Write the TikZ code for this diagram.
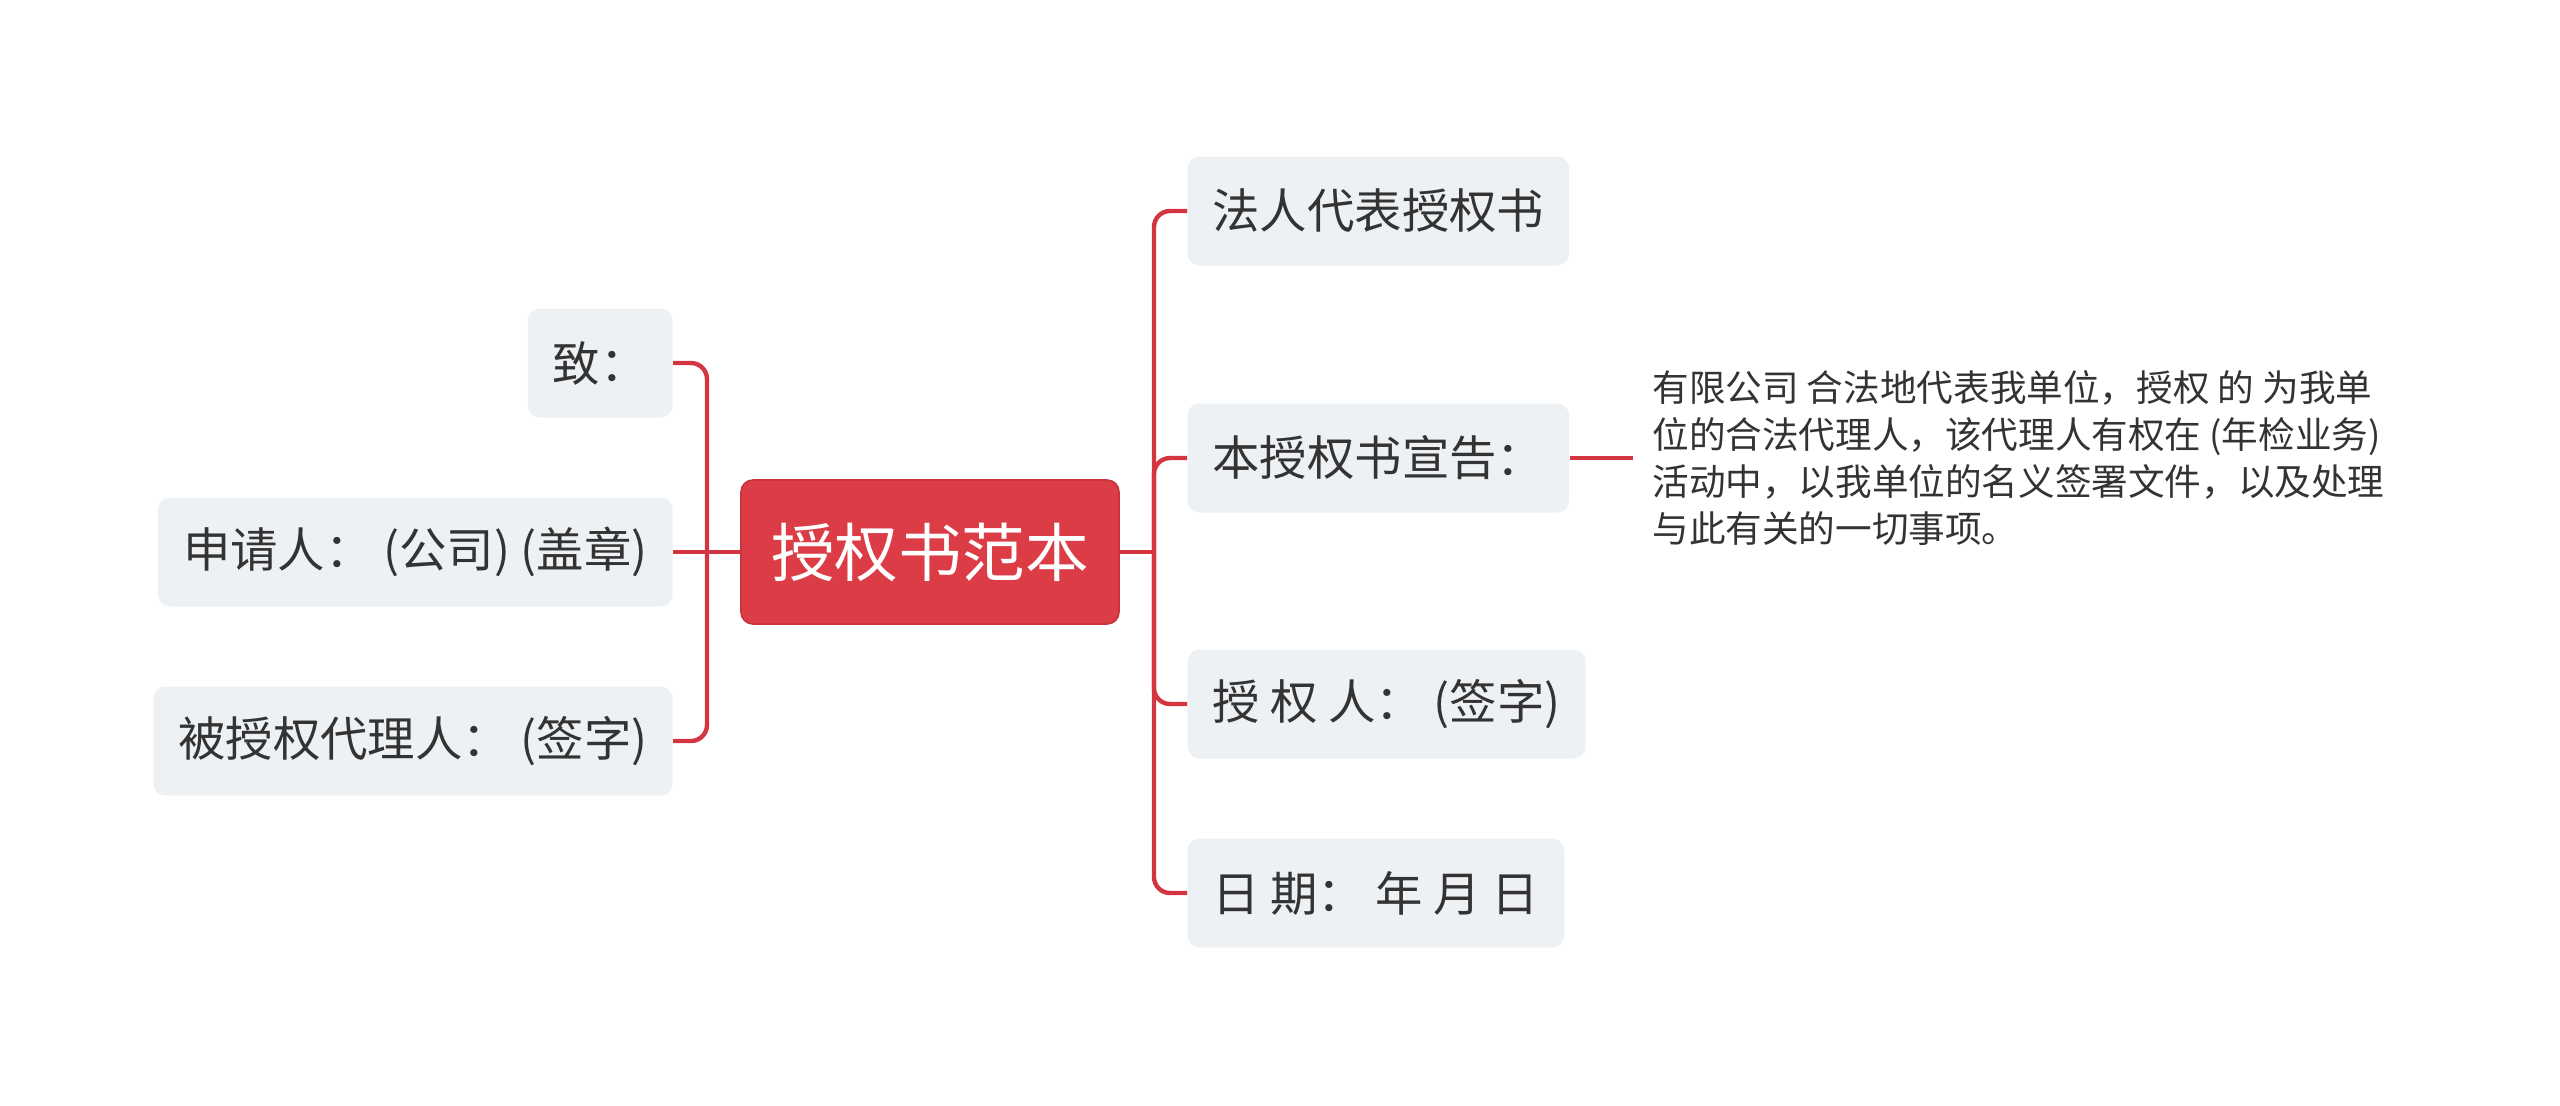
\documentclass[tikz,border=0pt]{standalone}
\usepackage{fontspec}
\setmainfont{Noto Sans CJK SC}
\usetikzlibrary{calc}
\definecolor{branchred}{HTML}{D33640}
\definecolor{rootred}{HTML}{DC3C45}
\definecolor{rootedge}{HTML}{C8343D}
\definecolor{leafgray}{HTML}{EEF1F4}
\definecolor{inkgray}{HTML}{333333}
\tikzset{
	rootbox/.style={rectangle, rounded corners=6pt, fill=rootred, draw=rootedge, line width=0.8pt, text=white, font=\fontsize{31.8pt}{36pt}\selectfont, minimum height=72pt, inner xsep=15pt},
	leafbox/.style={rectangle, rounded corners=6pt, fill=leafgray, text=inkgray, font=\fontsize{23.7pt}{28pt}\selectfont, minimum height=54.5pt, inner xsep=12.5pt},
	notebox/.style={text=inkgray, font=\fontsize{18.3pt}{23.5pt}\selectfont, align=left, inner xsep=9.5pt, inner ysep=0pt},
	branchline/.style={draw=branchred, line width=2.2pt, rounded corners=8pt},
}

\begin{document}
\begin{tikzpicture}[x=0.5pt, y=-0.5pt]
	\useasboundingbox (0,0) rectangle (2560,1105);
	\node[rootbox] at (930,552) (root) {授权书范本};
	% left side
	\node[leafbox, anchor = east] at (673,363) (zhi) {致：};
	\node[leafbox, anchor = east] at (673,552) (sqr) {申请人： (公司) (盖章)};
	\node[leafbox, anchor = east] at (673,741) (bsq) {被授权代理人： (签字)};
	% right side
	\node[leafbox, anchor = west] at (1187,211) (flr) {法人代表授权书};
	\node[leafbox, anchor = west] at (1187,458) (bsg) {本授权书宣告：};
	\node[leafbox, anchor = west] at (1187,704) (sqrr) {授 权 人： (签字)};
	\node[leafbox, anchor = west] at (1187,893) (rq) {日 期： 年 月 日};
	\node[notebox, anchor = west] at (1633,458) (detail) {有限公司 合法地代表我单位，授权 的 为我单\\位的合法代理人，该代理人有权在 (年检业务)\\活动中，以我单位的名义签署文件，以及处理\\与此有关的一切事项。};
	\coordinate (lhub) at (707,552);
	\coordinate (rhub) at (1154,552);
	\draw[branchline] (root.west) -- (sqr.east);
	\draw[branchline] (lhub) |- (zhi.east);
	\draw[branchline] (lhub) |- (bsq.east);
	\draw[branchline] (root.east) -- (rhub);
	\foreach \leaf in {flr, bsg, sqrr, rq}
		\draw[branchline] (rhub) |- (\leaf.west);
	\draw[branchline] (bsg.east) -- (bsg.east -| detail.west);
\end{tikzpicture}
\end{document}
